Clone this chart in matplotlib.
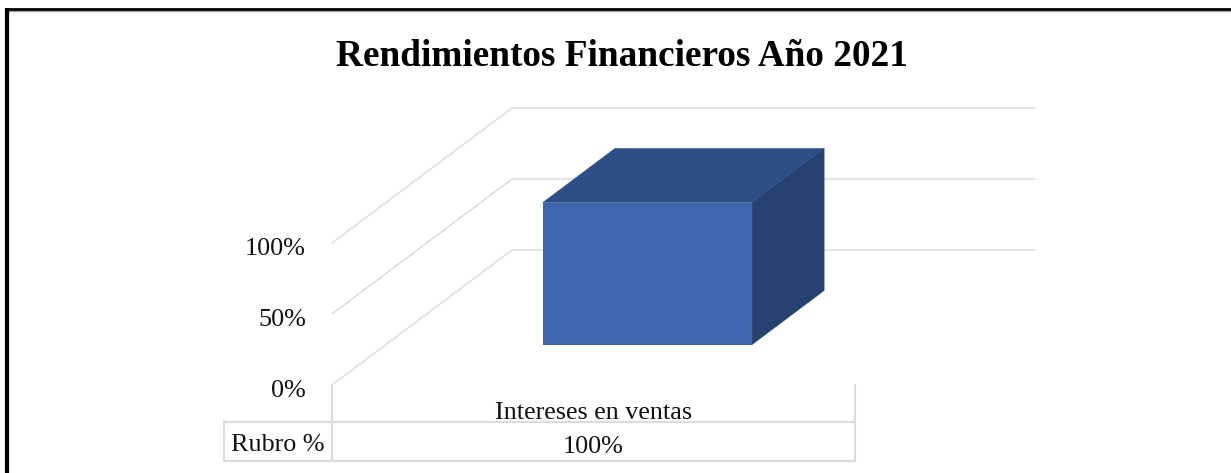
"""Rendimientos Financieros 2021 - oblique 3D column chart drawn on a pixel-sized axes."""
import matplotlib
matplotlib.use("Agg")
import matplotlib.pyplot as plt
from matplotlib.patches import Polygon

title = "Rendimientos Financieros Año 2021"
categories = ["Intereses en ventas"]
values = [100]
value_labels = ["100%"]
series_name = "Rubro %"
y_ticks = [0, 50, 100]
y_tick_labels = ["0%", "50%", "100%"]

GRID = "#e0e0e0"
TABLE = "#dcdcdc"
FRONT = "#3c66ae"
TOP = "#2e4f85"
SIDE = "#264170"
SERIF = "Liberation Serif"
FS = 18.8

# plot box of the chart, in figure pixels
X0, Y0 = 332, 385
PLOT_W = 523
PX_PER_PCT = 1.42
DEPTH_X, DEPTH_Y = 180, -135
BAR_W = 0.40
BAR_D0, BAR_D1 = 0.30, 0.70


def proj(x, val, depth=0.0):
    # x in category fraction, val in percent, depth 0 (front) to 1 (back wall)
    return (X0 + x * PLOT_W + depth * DEPTH_X,
            Y0 - val * PX_PER_PCT + depth * DEPTH_Y)


fig = plt.figure(figsize=(12.31, 4.73), dpi=100, facecolor="white")
ax = fig.add_axes([0, 0, 1, 1])
ax.set_xlim(0, 1231)
ax.set_ylim(473, 0)
ax.axis("off")

# gridlines: side wall then back wall
for t, lab in zip(y_ticks, y_tick_labels):
    pts = [proj(0, t), proj(0, t, 1), proj(1, t, 1)]
    ax.plot(*zip(*pts), color=GRID, lw=1.2, zorder=1, solid_joinstyle="miter")
    ax.text(306, proj(0, t)[1] + 5.5, lab, ha="right", va="center",
            family=SERIF, fontsize=FS, color="#111111")

# column
n = len(categories)
for i, v in enumerate(values):
    x0 = (i + 0.5) / n - BAR_W / 2
    x1 = x0 + BAR_W
    side = [proj(x1, 0, BAR_D0), proj(x1, 0, BAR_D1), proj(x1, v, BAR_D1), proj(x1, v, BAR_D0)]
    top = [proj(x0, v, BAR_D0), proj(x1, v, BAR_D0), proj(x1, v, BAR_D1), proj(x0, v, BAR_D1)]
    front = [proj(x0, 0, BAR_D0), proj(x1, 0, BAR_D0), proj(x1, v, BAR_D0), proj(x0, v, BAR_D0)]
    ax.add_patch(Polygon(side, closed=True, fc=SIDE, ec=SIDE, lw=0.4, zorder=3))
    ax.add_patch(Polygon(top, closed=True, fc=TOP, ec=TOP, lw=0.4, zorder=3))
    ax.add_patch(Polygon(front, closed=True, fc=FRONT, ec="none", zorder=4))

# data table under the plot
T_TOP, T_BOT, T_LEFT = 422, 461, 224
T_RIGHT = X0 + PLOT_W
for xs, ys in [((T_LEFT, T_RIGHT), (T_TOP, T_TOP)),
               ((T_LEFT, T_RIGHT), (T_BOT, T_BOT)),
               ((T_LEFT, T_LEFT), (T_TOP, T_BOT)),
               ((X0, X0), (Y0, T_BOT)),
               ((T_RIGHT, T_RIGHT), (Y0, T_BOT))]:
    ax.plot(xs, ys, color=TABLE, lw=1.5, zorder=2, solid_capstyle="projecting")

for i, (cat, lab) in enumerate(zip(categories, value_labels)):
    cx = X0 + (i + 0.5) / n * PLOT_W
    ax.text(cx, 413, cat, ha="center", va="center", family=SERIF, fontsize=FS, color="#111111")
    ax.text(cx, 447, lab, ha="center", va="center", family=SERIF, fontsize=FS, color="#111111")
ax.text((T_LEFT + X0) / 2, 445, series_name, ha="center", va="center",
        family=SERIF, fontsize=FS, color="#111111")

ax.text(622, 56.5, title, ha="center", va="center", family=SERIF,
        fontsize=26.8, fontweight="bold", color="black")

# frame of the embedded picture: only top and left are visible
ax.plot([5, 1231], [10.6, 10.6], color="#a0a0a0", lw=1, zorder=5)
ax.plot([7, 7], [8, 473], color="black", lw=3.0, zorder=6, solid_capstyle="butt")
ax.plot([5, 1231], [9, 9], color="black", lw=2.0, zorder=6, solid_capstyle="butt")

fig.savefig("out.png", dpi=100, facecolor=fig.get_facecolor())
plt.close(fig)
